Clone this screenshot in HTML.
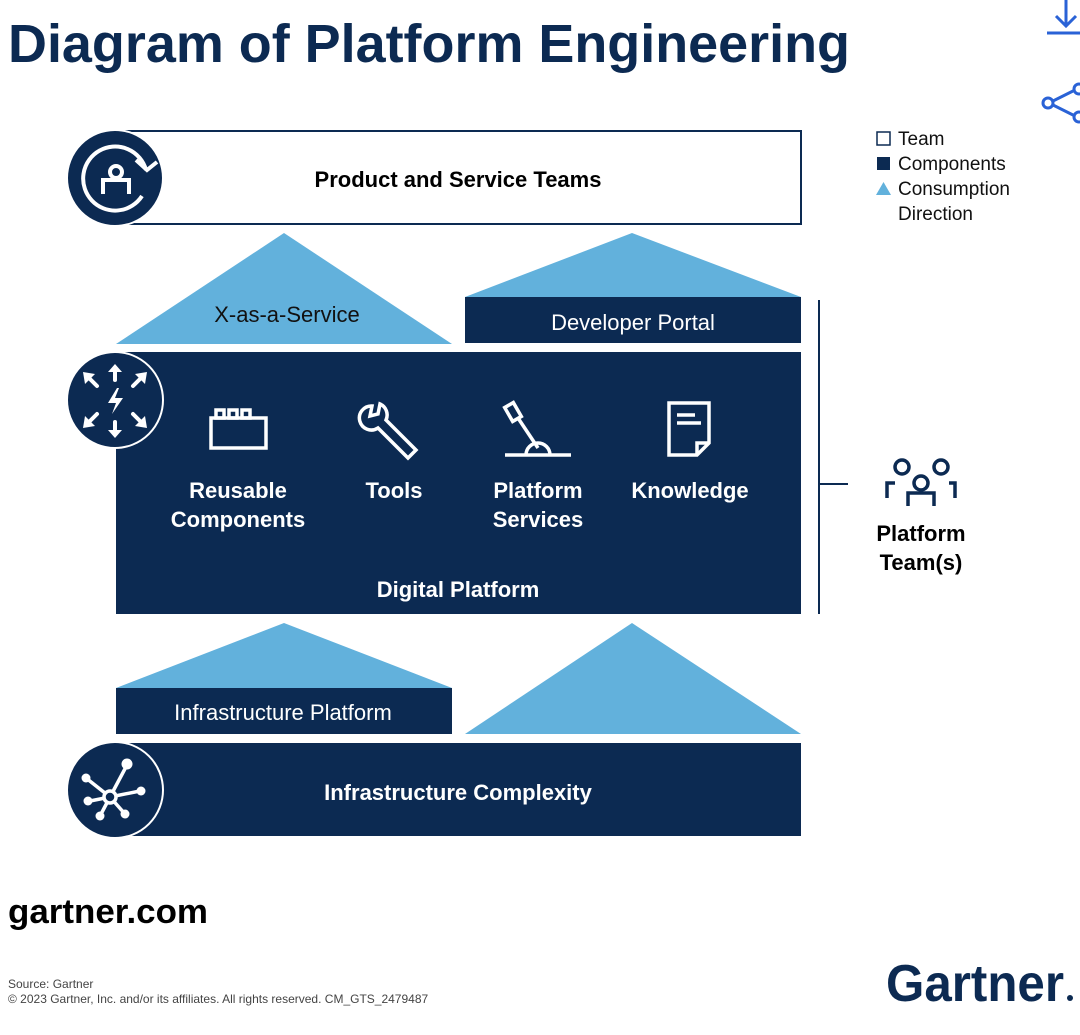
<!DOCTYPE html>
<html><head><meta charset="utf-8"><style>
body{margin:0;background:#fff;width:1080px;height:1030px;overflow:hidden}
svg text{font-family:"Liberation Sans",sans-serif}
</style></head><body>
<svg width="1080" height="1030" viewBox="0 0 1080 1030" xmlns="http://www.w3.org/2000/svg">
<text x="8" y="62" font-size="54" font-weight="bold" fill="#0c2a52" textLength="842" lengthAdjust="spacingAndGlyphs">Diagram of Platform Engineering</text>
<g stroke="#2a62d6" stroke-width="3" fill="none">
<line x1="1066" y1="0" x2="1066" y2="25"/><polyline points="1056,16 1066,26 1076,16"/><line x1="1047" y1="33" x2="1080" y2="33"/>
<line x1="1049" y1="103" x2="1077" y2="89"/><line x1="1049" y1="103" x2="1077" y2="117"/>
<circle cx="1048" cy="103" r="5" fill="#fff"/><circle cx="1079" cy="89" r="5" fill="#fff"/><circle cx="1079" cy="117" r="5" fill="#fff"/>
</g>
<rect x="877" y="132" width="13" height="13" fill="#fff" stroke="#0c2a52" stroke-width="1.5"/>
<rect x="877" y="157" width="13" height="13" fill="#0c2a52"/>
<polygon points="883.5,182 891,195 876,195" fill="#62b1dc"/>
<g font-size="19" fill="#111"><text x="898" y="145">Team</text><text x="898" y="170">Components</text><text x="898" y="195">Consumption</text><text x="898" y="220">Direction</text></g>
<rect x="116" y="131" width="685" height="93" fill="#fff" stroke="#0c2a52" stroke-width="2"/>
<text x="458" y="187" font-size="22" font-weight="bold" text-anchor="middle" fill="#000">Product and Service Teams</text>
<polygon points="284,233 452,344 116,344" fill="#62b1dc"/>
<text x="287" y="322" font-size="22" text-anchor="middle" fill="#111">X-as-a-Service</text>
<polygon points="632,233 801,297 465,297" fill="#62b1dc"/>
<rect x="465" y="297" width="336" height="46" fill="#0c2a52"/>
<text x="633" y="330" font-size="22" text-anchor="middle" fill="#fff">Developer Portal</text>
<rect x="116" y="352" width="685" height="262" fill="#0c2a52"/>
<g font-size="22" fill="#fff" text-anchor="middle" font-weight="bold">
<text x="238" y="498">Reusable</text><text x="238" y="527">Components</text>
<text x="394" y="498">Tools</text>
<text x="538" y="498">Platform</text><text x="538" y="527">Services</text>
<text x="690" y="498">Knowledge</text>
<text x="458" y="597">Digital Platform</text>
</g>
<g stroke="#fff" stroke-width="3.5" fill="none">
<rect x="211" y="418" width="55" height="30"/>
<rect x="216" y="410" width="8" height="8"/><rect x="229" y="410" width="8" height="8"/><rect x="242" y="410" width="8" height="8"/>
<path d="M372,406 a12,12 0 1 0 6,22 l30,30 l8,-8 l-30,-30 a12,12 0 0 0 -6,-16 l-2,10 l-8,2 z"/>
<line x1="505" y1="455" x2="571" y2="455"/>
<path d="M526,455 a12,12 0 0 1 24,0"/>
<line x1="538" y1="448" x2="518" y2="418"/>
<rect x="508" y="404" width="10" height="16" transform="rotate(-30 513 412)"/>
<path d="M669,403 h40 v40 l-12,12 h-28 z"/><path d="M697,455 v-12 h12"/>
<line x1="677" y1="415" x2="695" y2="415"/><line x1="677" y1="423" x2="701" y2="423"/>
</g>
<polygon points="284,623 452,688 116,688" fill="#62b1dc"/>
<rect x="116" y="688" width="336" height="46" fill="#0c2a52"/>
<text x="283" y="720" font-size="22" text-anchor="middle" fill="#fff">Infrastructure Platform</text>
<polygon points="632,623 801,734 465,734" fill="#62b1dc"/>
<rect x="116" y="743" width="685" height="93" fill="#0c2a52"/>
<text x="458" y="800" font-size="22" font-weight="bold" text-anchor="middle" fill="#fff">Infrastructure Complexity</text>
<g stroke="#fff" stroke-width="2" fill="#0c2a52">
<circle cx="115" cy="178" r="48"/><circle cx="115" cy="400" r="48"/><circle cx="115" cy="790" r="48"/>
</g>
<g stroke="#fff" stroke-width="4" fill="none">
<path d="M146,170 A32,32 0 1 0 142,196"/><polyline points="136,160 147,170 157,162"/>
<circle cx="116" cy="172" r="6"/><path d="M103,194 v-14 h26 v14"/>
</g>
<g fill="#fff">
<polygon points="117,388 108,403 116,403 112,414 123,398 115,398 119,388"/>
<g stroke="#fff" stroke-width="4" stroke-linecap="round">
<line x1="115" y1="380" x2="115" y2="370"/><line x1="115" y1="422" x2="115" y2="432"/>
<line x1="97" y1="386" x2="88" y2="377"/><line x1="133" y1="386" x2="142" y2="377"/>
<line x1="97" y1="414" x2="88" y2="423"/><line x1="133" y1="414" x2="142" y2="423"/></g>
<polygon points="115,364 108,372 122,372"/><polygon points="115,438 108,430 122,430"/>
<polygon points="83,372 95,374 85,384"/><polygon points="147,372 135,374 145,384"/>
<polygon points="83,428 95,426 85,416"/><polygon points="147,428 135,426 145,416"/>
</g>
<g stroke="#fff" stroke-width="3.5" fill="#0c2a52">
<line x1="110" y1="797" x2="86" y2="778"/><line x1="110" y1="797" x2="90" y2="801"/><line x1="110" y1="797" x2="100" y2="816"/>
<line x1="110" y1="797" x2="125" y2="814"/><line x1="110" y1="797" x2="140" y2="791"/><line x1="110" y1="797" x2="127" y2="765"/>
<circle cx="110" cy="797" r="6"/>
<g fill="#fff" stroke="none"><circle cx="86" cy="778" r="4.5"/><circle cx="88" cy="801" r="4.5"/><circle cx="100" cy="816" r="4.5"/><circle cx="125" cy="814" r="4.5"/><circle cx="141" cy="791" r="4.5"/><circle cx="127" cy="764" r="5.5"/></g>
</g>
<line x1="819" y1="300" x2="819" y2="614" stroke="#0c2a52" stroke-width="2"/>
<line x1="819" y1="484" x2="848" y2="484" stroke="#0c2a52" stroke-width="2"/>
<g stroke="#0c2a52" stroke-width="3.5" fill="none">
<circle cx="902" cy="467" r="7"/><circle cx="941" cy="467" r="7"/><circle cx="921" cy="483" r="7"/>
<path d="M887,498 v-15 h8 M949,483 h6 v15"/><path d="M908,506 v-13 h26 v13"/>
</g>
<text x="921" y="541" font-size="22" font-weight="bold" text-anchor="middle" fill="#000">Platform</text>
<text x="921" y="570" font-size="22" font-weight="bold" text-anchor="middle" fill="#000">Team(s)</text>
<text x="8" y="923" font-size="34" font-weight="bold" fill="#000" textLength="200" lengthAdjust="spacingAndGlyphs">gartner.com</text>
<text x="8" y="988" font-size="12" fill="#444">Source: Gartner</text>
<text x="8" y="1003" font-size="12" fill="#444">© 2023 Gartner, Inc. and/or its affiliates. All rights reserved. CM_GTS_2479487</text>
<text x="886" y="1001" font-size="52" font-weight="bold" fill="#0c2a52" textLength="178" lengthAdjust="spacingAndGlyphs">Gartner</text>
<circle cx="1070" cy="998" r="3" fill="#0c2a52"/>
</svg>
</body></html>
